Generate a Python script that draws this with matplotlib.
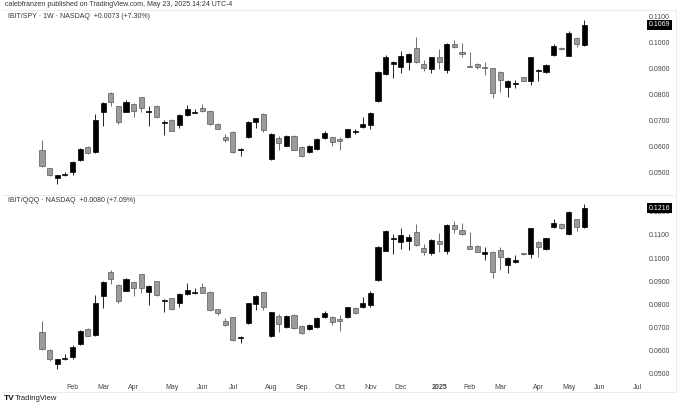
import numpy as np
import pandas as pd
import matplotlib
matplotlib.use("Agg")
import matplotlib.pyplot as plt
from matplotlib.lines import Line2D

plt.rcParams["font.family"] = ["Liberation Sans", "DejaVu Sans"]

# weekly candles, IBIT/SPY (week of 2024-01-08 onward)
spy_open = [0.0586, 0.0518, 0.0479, 0.0491, 0.0501, 0.0550, 0.0598, 0.0578, 0.0732, 0.0808,
            0.0755, 0.0734, 0.0764, 0.0790, 0.0733, 0.0757, 0.0692, 0.0703, 0.0684, 0.0723,
            0.0730, 0.0749, 0.0739, 0.0688, 0.0639, 0.0656, 0.0587, 0.0637, 0.0697, 0.0726,
            0.0552, 0.0633, 0.0604, 0.0643, 0.0598, 0.0578, 0.0592, 0.0633, 0.0637, 0.0629,
            0.0636, 0.0657, 0.0674, 0.0682, 0.0776, 0.0879, 0.0917, 0.0906, 0.0927, 0.0979,
            0.0918, 0.0899, 0.0944, 0.0895, 0.0995, 0.0965, 0.0911, 0.0920, 0.0908, 0.0901,
            0.0888, 0.0828, 0.0840, 0.0867, 0.0851, 0.0892, 0.0886, 0.0952, 0.0981, 0.0950,
            0.1017, 0.0991]
spy_high = [0.0627, 0.0520, 0.0491, 0.0501, 0.0547, 0.0596, 0.0601, 0.0726, 0.0774, 0.0811,
            0.0757, 0.0780, 0.0767, 0.0793, 0.0755, 0.0760, 0.0703, 0.0706, 0.0725, 0.0762,
            0.0746, 0.0765, 0.0742, 0.0693, 0.0650, 0.0659, 0.0596, 0.0700, 0.0712, 0.0729,
            0.0651, 0.0642, 0.0646, 0.0646, 0.0601, 0.0606, 0.0633, 0.0659, 0.0639, 0.0637,
            0.0670, 0.0669, 0.0716, 0.0734, 0.0892, 0.0952, 0.0930, 0.0970, 0.0962, 0.1021,
            0.0934, 0.0947, 0.0975, 0.0998, 0.1011, 0.0998, 0.0966, 0.0924, 0.0927, 0.0903,
            0.0890, 0.0857, 0.0857, 0.0870, 0.0947, 0.0898, 0.0918, 0.0994, 0.0983, 0.1044,
            0.1021, 0.1087]
spy_low = [0.0522, 0.0486, 0.0458, 0.0488, 0.0492, 0.0547, 0.0573, 0.0575, 0.0678, 0.0757,
           0.0688, 0.0732, 0.0714, 0.0733, 0.0680, 0.0712, 0.0646, 0.0660, 0.0671, 0.0720,
           0.0729, 0.0735, 0.0685, 0.0668, 0.0619, 0.0575, 0.0565, 0.0634, 0.0671, 0.0655,
           0.0550, 0.0588, 0.0601, 0.0587, 0.0560, 0.0575, 0.0588, 0.0630, 0.0604, 0.0586,
           0.0633, 0.0650, 0.0671, 0.0669, 0.0774, 0.0876, 0.0863, 0.0885, 0.0895, 0.0924,
           0.0893, 0.0885, 0.0898, 0.0883, 0.0980, 0.0947, 0.0906, 0.0898, 0.0876, 0.0787,
           0.0810, 0.0793, 0.0825, 0.0852, 0.0838, 0.0854, 0.0884, 0.0948, 0.0974, 0.0948,
           0.0984, 0.0989]
spy_close = [0.0524, 0.0492, 0.0490, 0.0495, 0.0540, 0.0591, 0.0575, 0.0701, 0.0770, 0.0771,
             0.0697, 0.0773, 0.0739, 0.0748, 0.0739, 0.0714, 0.0696, 0.0662, 0.0723, 0.0744,
             0.0734, 0.0737, 0.0688, 0.0670, 0.0624, 0.0581, 0.0589, 0.0697, 0.0710, 0.0665,
             0.0648, 0.0614, 0.0643, 0.0589, 0.0563, 0.0601, 0.0629, 0.0652, 0.0618, 0.0623,
             0.0668, 0.0662, 0.0688, 0.0729, 0.0889, 0.0947, 0.0925, 0.0950, 0.0957, 0.0926,
             0.0902, 0.0944, 0.0927, 0.0995, 0.0982, 0.0958, 0.0907, 0.0908, 0.0904, 0.0806,
             0.0857, 0.0854, 0.0844, 0.0854, 0.0944, 0.0894, 0.0916, 0.0986, 0.0977, 0.1039,
             0.0996, 0.1069]

# weekly candles, IBIT/QQQ
qqq_open = [0.0679, 0.0603, 0.0545, 0.0566, 0.0574, 0.0629, 0.0694, 0.0668, 0.0838, 0.0941,
            0.0884, 0.0859, 0.0895, 0.0930, 0.0854, 0.0901, 0.0815, 0.0826, 0.0805, 0.0845,
            0.0848, 0.0874, 0.0855, 0.0779, 0.0730, 0.0744, 0.0656, 0.0718, 0.0800, 0.0852,
            0.0663, 0.0750, 0.0701, 0.0754, 0.0708, 0.0692, 0.0701, 0.0744, 0.0747, 0.0737,
            0.0744, 0.0783, 0.0787, 0.0797, 0.0905, 0.1032, 0.1081, 0.1068, 0.1074, 0.1114,
            0.1045, 0.1024, 0.1075, 0.1031, 0.1143, 0.1121, 0.1051, 0.1054, 0.1019, 0.1028,
            0.1035, 0.0970, 0.0983, 0.1020, 0.1016, 0.1071, 0.1039, 0.1133, 0.1146, 0.1104,
            0.1167, 0.1133]
qqq_high = [0.0728, 0.0606, 0.0566, 0.0586, 0.0623, 0.0689, 0.0697, 0.0841, 0.0903, 0.0949,
            0.0887, 0.0913, 0.0898, 0.0931, 0.0884, 0.0903, 0.0825, 0.0829, 0.0849, 0.0891,
            0.0869, 0.0891, 0.0858, 0.0782, 0.0740, 0.0747, 0.0664, 0.0808, 0.0839, 0.0855,
            0.0769, 0.0757, 0.0754, 0.0757, 0.0711, 0.0714, 0.0744, 0.0771, 0.0750, 0.0754,
            0.0790, 0.0787, 0.0833, 0.0859, 0.1052, 0.1121, 0.1103, 0.1129, 0.1104, 0.1147,
            0.1061, 0.1081, 0.1107, 0.1146, 0.1162, 0.1150, 0.1114, 0.1057, 0.1049, 0.1031,
            0.1049, 0.1006, 0.1013, 0.1023, 0.1131, 0.1074, 0.1088, 0.1170, 0.1150, 0.1203,
            0.1170, 0.1234]
qqq_low = [0.0603, 0.0555, 0.0521, 0.0560, 0.0564, 0.0625, 0.0662, 0.0665, 0.0783, 0.0887,
           0.0805, 0.0856, 0.0838, 0.0851, 0.0797, 0.0838, 0.0766, 0.0776, 0.0787, 0.0842,
           0.0845, 0.0848, 0.0773, 0.0753, 0.0708, 0.0642, 0.0632, 0.0715, 0.0776, 0.0776,
           0.0661, 0.0682, 0.0698, 0.0694, 0.0672, 0.0689, 0.0698, 0.0741, 0.0711, 0.0685,
           0.0741, 0.0758, 0.0783, 0.0790, 0.0903, 0.1029, 0.1016, 0.1038, 0.1035, 0.1054,
           0.1013, 0.1013, 0.1028, 0.1018, 0.1107, 0.1100, 0.1038, 0.1025, 0.0992, 0.0913,
           0.0949, 0.0937, 0.0980, 0.1013, 0.0999, 0.1006, 0.1036, 0.1130, 0.1126, 0.1101,
           0.1119, 0.1130]
qqq_close = [0.0607, 0.0563, 0.0563, 0.0570, 0.0617, 0.0685, 0.0665, 0.0805, 0.0898, 0.0908,
             0.0815, 0.0908, 0.0872, 0.0869, 0.0881, 0.0841, 0.0819, 0.0779, 0.0846, 0.0862,
             0.0852, 0.0851, 0.0776, 0.0761, 0.0711, 0.0646, 0.0661, 0.0805, 0.0836, 0.0790,
             0.0766, 0.0715, 0.0751, 0.0697, 0.0675, 0.0711, 0.0740, 0.0764, 0.0725, 0.0730,
             0.0787, 0.0764, 0.0805, 0.0848, 0.1049, 0.1117, 0.1088, 0.1098, 0.1093, 0.1057,
             0.1025, 0.1078, 0.1059, 0.1143, 0.1126, 0.1104, 0.1041, 0.1028, 0.1025, 0.0941,
             0.1003, 0.1002, 0.0992, 0.1016, 0.1129, 0.1047, 0.1085, 0.1150, 0.1129, 0.1201,
             0.1136, 0.1216]

spy_ticks = [0.05, 0.06, 0.07, 0.08, 0.09, 0.10, 0.11]
qqq_ticks = [0.05, 0.06, 0.07, 0.08, 0.09, 0.10, 0.11, 0.12]

W, H = 680, 405


def box(x0, y0, x1, y1):
    return [x0 / W, 1 - y1 / H, (x1 - x0) / W, (y1 - y0) / H]


def candles(ax, o, h, l, c):
    o, h, l, c = map(np.asarray, (o, h, l, c))
    x = np.arange(len(o))
    up = c >= o
    ax.vlines(x, l, h, colors=np.where(up, "#222222", "#6e6e6e"), linewidth=0.7, zorder=1)
    ax.bar(x, np.maximum(np.abs(c - o), 0.0003), bottom=np.minimum(o, c), width=0.66,
           color=np.where(up, "#000000", "#9b9b9b"),
           edgecolor=np.where(up, "#000000", "#5a5a5a"), linewidth=0.5, zorder=2)


def style(ax, ticks, ylim, last):
    ax.set_xlim(-5.24, 78.7)
    ax.set_ylim(*ylim)
    for s in ax.spines.values():
        s.set_visible(False)
    ax.yaxis.tick_right()
    ax.set_yticks(ticks)
    ax.set_yticklabels([f"{t:.4f}" for t in ticks])
    ax.tick_params(axis="y", length=0, pad=4, labelsize=5, labelcolor="#444444")
    ax.annotate(f"{last:.4f}", xy=(1, last), xycoords=ax.get_yaxis_transform(),
                xytext=(4, 0), textcoords="offset points", ha="left", va="center",
                fontsize=5, color="white", zorder=10, annotation_clip=False,
                bbox=dict(boxstyle="square,pad=0.25", fc="black", ec="none"))


fig = plt.figure(figsize=(6.8, 4.05), dpi=100)
ax1 = fig.add_axes(box(2, 10, 643, 193))
ax2 = fig.add_axes(box(2, 196, 643, 380))

candles(ax1, spy_open, spy_high, spy_low, spy_close)
candles(ax2, qqq_open, qqq_high, qqq_low, qqq_close)
style(ax1, spy_ticks, (0.0422, 0.1126), spy_close[-1])
style(ax2, qqq_ticks, (0.0474, 0.1268), qqq_close[-1])

# month labels at the first weekly bar of each month
weeks = pd.date_range("2024-01-08", periods=80, freq="W-MON")
tick_pos = [i for i, d in enumerate(weeks) if d.day <= 7]
tick_lab = ["2025" if weeks[i].month == 1 else weeks[i].strftime("%b") for i in tick_pos]
ax1.set_xticks([])
ax2.set_xticks(tick_pos)
ax2.set_xticklabels(tick_lab)
ax2.tick_params(axis="x", length=0, pad=3, labelsize=5, labelcolor="#444444")
for t in ax2.get_xticklabels():
    if t.get_text() == "2025":
        t.set_fontweight("bold")

# pane borders
lc = "#e9e9e9"
for (x0, y0, x1, y1) in [(2, 10, 676, 10), (2, 194.5, 676, 194.5), (676, 10, 676, 392),
                         (2, 392, 676, 392)]:
    fig.add_artist(Line2D([x0 / W, x1 / W], [1 - y0 / H, 1 - y1 / H], color=lc, linewidth=0.6))

fig.text(5 / W, 1 - 5 / H, "calebfranzen published on TradingView.com, May 23, 2025 14:24 UTC-4",
         fontsize=5, color="#333333", va="center")
fig.text(8 / W, 1 - 17 / H, "IBIT/SPY · 1W · NASDAQ  +0.0073 (+7.30%)",
         fontsize=5, color="#333333", va="center")
fig.text(8 / W, 1 - 201 / H, "IBIT/QQQ · NASDAQ  +0.0080 (+7.09%)",
         fontsize=5, color="#333333", va="center")
fig.text(4 / W, 1 - 398 / H, "TV", fontsize=6, fontweight="bold", color="#111111", va="center")
fig.text(15 / W, 1 - 398 / H, "TradingView", fontsize=5.5, color="#222222", va="center")

fig.savefig("out.png", dpi=100, facecolor="white")
